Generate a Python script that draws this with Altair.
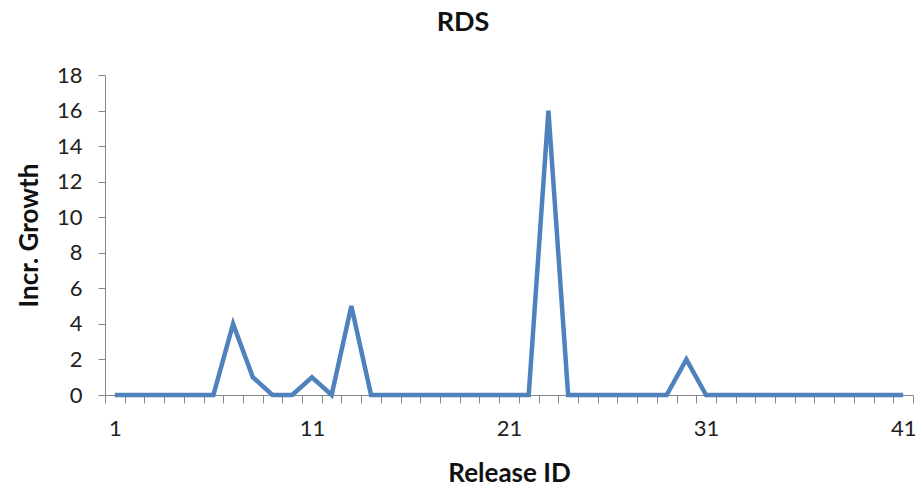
import altair as alt
import pandas as pd

# Incremental growth of RDS per release
release_ids = list(range(1, 42))
growth = [0, 0, 0, 0, 0, 0, 4, 1, 0, 0,
          1, 0, 5, 0, 0, 0, 0, 0, 0, 0,
          0, 0, 16, 0, 0, 0, 0, 0, 0, 2,
          0, 0, 0, 0, 0, 0, 0, 0, 0, 0,
          0]
x_label_values = [1, 11, 21, 31, 41]
y_ticks = [0, 2, 4, 6, 8, 10, 12, 14, 16, 18]

df = pd.DataFrame({"release": release_ids, "growth": growth})

FONT = "Lato"
AXIS_GREY = "#868686"
PLOT_W, PLOT_H = 808, 320
step_px = PLOT_W / len(release_ids)

# category-style ticks sit between releases; labels centred on the releases
tick_positions = [i + 0.5 for i in range(0, len(release_ids) + 1)]
label_test = " || ".join(f"datum.value == {v - 0.5}" for v in x_label_values)

x_axis = alt.Axis(
    values=tick_positions,
    labelExpr=f"({label_test}) ? format(datum.value + 0.5, 'd') : ''",
    labelOffset=step_px / 2,
    labelOverlap=False,
    labelFlush=False,
    labelFont=FONT,
    labelFontSize=22,
    labelColor="#222222",
    labelPadding=15,
    tickSize=8,
    tickColor=AXIS_GREY,
    domainColor=AXIS_GREY,
    grid=False,
    title="Release ID",
    titleFont=FONT,
    titleFontSize=26,
    titleFontWeight="bold",
    titleColor="#111111",
    titlePadding=21,
)

y_axis = alt.Axis(
    values=y_ticks,
    labelFont=FONT,
    labelFontSize=22,
    labelColor="#222222",
    labelPadding=16,
    tickSize=7,
    tickColor=AXIS_GREY,
    domainColor=AXIS_GREY,
    grid=False,
    title="Incr. Growth",
    titleFont=FONT,
    titleFontSize=26,
    titleFontWeight="bold",
    titleColor="#111111",
    titlePadding=14,
)

chart = (
    alt.Chart(df)
    .mark_line(color="#4F81BD", strokeWidth=4.5, strokeJoin="miter")
    .encode(
        x=alt.X("release:Q", scale=alt.Scale(domain=[0.5, len(release_ids) + 0.5], nice=False, zero=False), axis=x_axis),
        y=alt.Y("growth:Q", scale=alt.Scale(domain=[0, 18], nice=False), axis=y_axis),
    )
    .properties(
        width=PLOT_W,
        height=PLOT_H,
        title=alt.TitleParams("RDS", font=FONT, fontSize=27, fontWeight="bold", color="#111111",
                              offset=27, dx=-46),
        padding={"left": 105, "top": 75, "right": 11, "bottom": 92},
        autosize=alt.AutoSizeParams(type="none"),
    )
    .configure_view(stroke=None)
)

chart.save("out.html", embed_options={"renderer": "svg", "actions": False})
